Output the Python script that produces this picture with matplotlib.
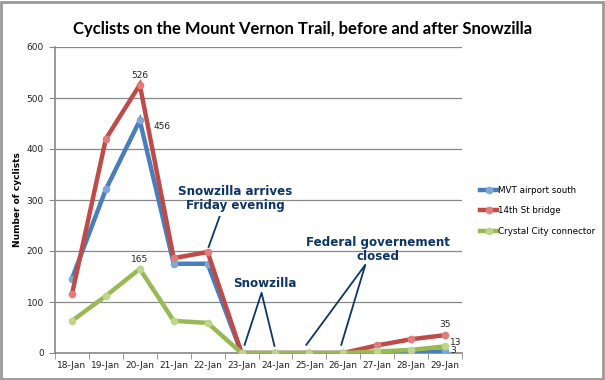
import matplotlib
matplotlib.use("Agg")
import matplotlib.pyplot as plt
import numpy as np

days = ["18-Jan", "19-Jan", "20-Jan", "21-Jan", "22-Jan", "23-Jan",
        "24-Jan", "25-Jan", "26-Jan", "27-Jan", "28-Jan", "29-Jan"]
mvt_south = [146, 321, 456, 175, 175, 0, 0, 0, 0, 1, 2, 3]
st14_bridge = [115, 420, 526, 186, 198, 0, 0, 0, 0, 15, 27, 35]
crystal_city = [63, 112, 165, 63, 59, 0, 0, 0, 0, 3, 6, 13]

series = [
    ("MVT airport south", mvt_south, "#4a7ebb", "#7fa6d8"),
    ("14th St bridge", st14_bridge, "#be4b48", "#e07c7a"),
    ("Crystal City connector", crystal_city, "#98b954", "#bcd68a"),
]

fig = plt.figure(figsize=(6.05, 3.8), dpi=100)
ax = fig.add_axes([55 / 605, 27 / 380, 407 / 605, 306 / 380])

x = np.arange(len(days))
for name, vals, col, mcol in series:
    ax.plot(x, vals, color=col, lw=3.2, marker="o", ms=4.5,
            mfc=mcol, mec=mcol, label=name, solid_joinstyle="miter", zorder=3)

ax.set_xlim(-0.5, len(days) - 0.5)
ax.set_ylim(0, 600)
ax.set_yticks(range(0, 601, 100))
ax.set_xticks(x)
ax.set_xticklabels(days, fontsize=6.5, color="#222222")
ax.set_xticks(np.arange(-0.5, len(days), 1), minor=True)
ax.tick_params(axis="x", which="major", length=0, pad=6)
ax.tick_params(axis="x", which="minor", length=4, color="#888888")
ax.tick_params(axis="y", length=4, color="#888888", labelsize=6.5,
               labelcolor="#222222", pad=4)
ax.yaxis.grid(True, color="#888888", lw=0.9)
ax.set_axisbelow(True)
for s in ["top", "right"]:
    ax.spines[s].set_visible(False)
ax.spines["left"].set_color("#888888")
ax.spines["bottom"].set_color("#888888")
ax.spines["left"].set_linewidth(1.2)
ax.spines["bottom"].set_linewidth(1.2)

ax.set_ylabel("Number of cyclists", fontsize=6.5, fontweight="bold")
ax.yaxis.set_label_coords(-33 / 407, 0.5)

# data labels
lab = dict(fontsize=6.5, color="#222222")
ax.text(2, st14_bridge[2] + 10, str(st14_bridge[2]), ha="center", va="bottom", **lab)
ax.text(2.4, mvt_south[2] - 12, str(mvt_south[2]), ha="left", va="center", **lab)
ax.text(2, crystal_city[2] + 10, str(crystal_city[2]), ha="center", va="bottom", **lab)
ax.text(11, st14_bridge[11] + 12, str(st14_bridge[11]), ha="center", va="bottom", **lab)
ax.text(11.15, crystal_city[11] + 8, str(crystal_city[11]), ha="left", va="center", **lab)
ax.text(11.15, mvt_south[11] + 1, str(mvt_south[11]), ha="left", va="center", **lab)

# annotations
navy = "#0d3568"
note = dict(fontsize=8.6, fontweight="bold", color=navy, ha="center", va="center",
            linespacing=1.1, family="DejaVu Sans")
ax.text(4.82, 302, "Snowzilla arrives\nFriday evening", **note)
ax.plot([4.35, 4.03], [267, 208], color=navy, lw=1.3)
ax.text(5.68, 137, "Snowzilla", **note)
ax.plot([5.09, 5.59, 5.97], [16, 118, 14], color=navy, lw=1.3)
ax.text(9.03, 202, "Federal governement\nclosed", **note)
ax.plot([6.91, 8.65, 7.94], [16, 173, 16], color=navy, lw=1.3)

fig.suptitle("Cyclists on the Mount Vernon Trail, before and after Snowzilla",
             x=0.5, y=0.945, fontsize=12, fontweight="bold", family="Lato")

fig.legend(loc="upper left", bbox_to_anchor=(472 / 605, 1 - 178 / 380),
           frameon=False, fontsize=6.3, handlelength=2.0, handletextpad=0.05,
           labelspacing=1.3)

fig.patches.append(plt.Rectangle((0.002, 0.003), 0.995, 0.993, transform=fig.transFigure,
                                 fill=False, edgecolor="#999999", lw=2))

fig.savefig("out.png", dpi=100)
